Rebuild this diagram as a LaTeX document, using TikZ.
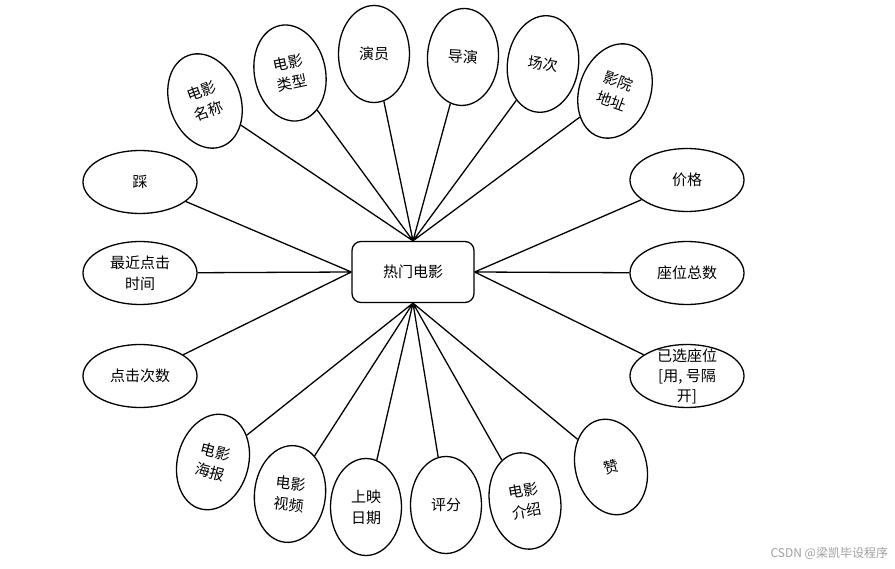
\documentclass[tikz,border=0pt]{standalone}
\usepackage{fontspec}
\setmainfont{Noto Sans CJK SC}
\usetikzlibrary{shapes.geometric}
\begin{document}
\begin{tikzpicture}[x=1pt, y=-1pt, line width=1.3pt,
  atributo/.style={draw, ellipse, inner sep=1pt, minimum width=71pt,
    minimum height=97pt, align=center, font=\fontsize{15}{21}\selectfont},
  atrib/.style={atributo, minimum width=114pt, minimum height=63pt},
  entidad/.style={draw, rounded corners=9pt, minimum width=122pt,
    minimum height=61pt, font=\fontsize{15}{19}\selectfont}]
  \useasboundingbox (0,0) rectangle (895,569);

  % Entidad central
  \node[entidad] (hot) at (413,272) {热门电影};

  % Atributos de arriba
  \node[atributo, rotate=20] (nombre) at (205,101) {电影\\名称};
  \node[atributo, rotate=12] (tipo) at (290,73) {电影\\类型};
  \node[atributo] (actor) at (374,54) {演员};
  \node[atributo, rotate=-3] (director) at (463,57) {导演};
  \node[atributo, rotate=-8] (sesion) at (543,64) {场次};
  \node[atributo, rotate=-20] (cine) at (615,91) {影院\\地址};

  % Atributos de la izquierda
  \node[atrib] (pisar) at (140,182) {踩};
  \node[atrib] (ultimo) at (140,273) {最近点击\\时间};
  \node[atrib] (clics) at (140,376) {点击次数};

  % Atributos de la derecha
  \node[atrib] (precio) at (687,180) {价格};
  \node[atrib] (total) at (687,273) {座位总数};
  \node[atrib] (elegidos) at (687,376) {};
  \node[align=center, font=\fontsize{15}{20}\selectfont] (elegidostxt)
        at (elegidos) {已选座位\\\relax[用, 号隔\\开]};

  % Atributos de abajo
  \node[atributo, rotate=-15] (cartel) at (213,462) {电影\\海报};
  \node[atributo, rotate=-6] (video) at (290,494) {电影\\视频};
  \node[atributo] (estreno) at (366,507) {上映\\日期};
  \node[atributo] (nota) at (446,505) {评分};
  \node[atributo, rotate=10] (intro) at (525,501) {电影\\介绍};
  \node[atributo, rotate=15] (gusta) at (611,467) {赞};

  % Conexiones
  \draw (nombre) -- (hot.north) (tipo) -- (hot.north)
        (actor) -- (hot.north) (director) -- (hot.north)
        (sesion) -- (hot.north) (cine) -- (hot.north);
  \draw (pisar) -- (hot.west) (ultimo) -- (hot.west)
        (clics) -- (hot.west);
  \draw (precio) -- (hot.east) (total) -- (hot.east)
        (elegidos) -- (hot.east);
  \draw (cartel) -- (hot.south) (video) -- (hot.south)
        (estreno) -- (hot.south) (nota) -- (hot.south)
        (intro) -- (hot.south) (gusta) -- (hot.south);

  % Marca de agua
  \node[anchor=east, text=gray!75, font=\fontsize{12}{14}\selectfont]
        (marca) at (892,553) {CSDN @梁凯毕设程序};
\end{tikzpicture}
\end{document}
